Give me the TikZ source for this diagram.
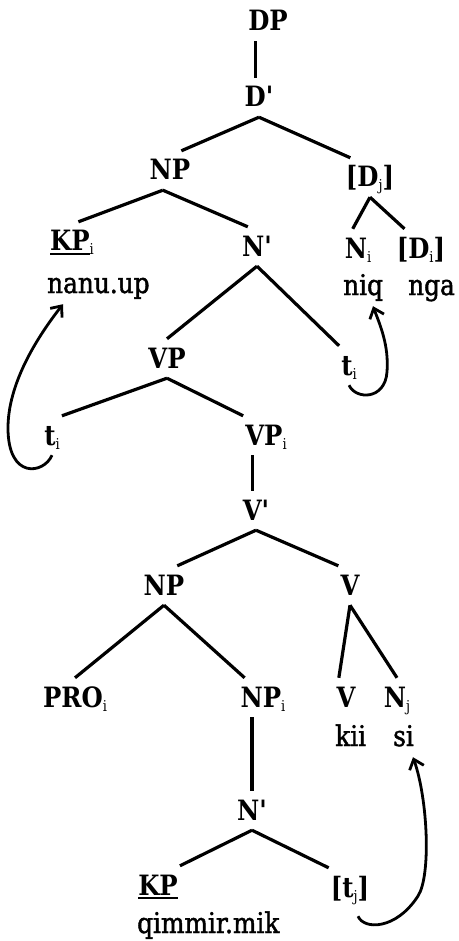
\documentclass[tikz,border=0pt]{standalone}
\usepackage{fontspec}
\newfontfamily\treefont[FakeStretch=0.87]{DejaVu Serif}
\newfontfamily\wordfont[FakeStretch=0.87,FakeBold=1.5]{DejaVu Serif}
\usetikzlibrary{arrows.meta,positioning}
\newsavebox\undlbox
\newcommand{\idx}[1]{\raisebox{-4pt}{\fontsize{15}{15}\selectfont\mdseries #1}}
\newcommand{\undl}[1]{\sbox\undlbox{#1}\rlap{\rule[-4pt]{\wd\undlbox}{2.4pt}}\usebox\undlbox}

\begin{document}
\begin{tikzpicture}[
  x=1pt, y=-1pt,
  cat/.style={font={\treefont\bfseries\fontsize{28}{32}\selectfont}, anchor=base,
              inner xsep=2pt, inner ysep=6pt, text height=23pt, text depth=4pt},
  word/.style={font={\wordfont\fontsize{28.5}{32}\selectfont}, anchor=base west,
               inner xsep=0pt, inner ysep=4pt, text height=15pt, text depth=7pt},
  branch/.style={line width=3.2pt},
  move/.style={line width=2.8pt, -{Straight Barb[length=9pt,width=15pt]}},
]
\useasboundingbox (0,0) rectangle (458,941);

% Nodes
\node[cat] (dp) at (268,31) {DP};
\node[cat] (dbar) at (259,107) {D'};
\node[cat] (np1) at (170,180) {NP};
\node[cat] (dj) at (370,187) {[D\idx{j}]};
\node[cat] (kp1) at (72,251) {\undl{KP}\idx{i}};
\node[cat] (nbar1) at (257,256) {N'};
\node[cat] (ni) at (358,258) {N\idx{i}};
\node[cat] (di) at (421,258) {[D\idx{i}]};
\node[word] (nanu) at (47,293) {nanu.up};
\node[word] (niq) at (343,295) {niq};
\node[word] (nga) at (408,295) {nga};
\node[cat] (vp1) at (167,368) {VP};
\node[cat] (ti1) at (349,375) {t\idx{i}};
\node[cat] (ti2) at (52,445) {t\idx{i}};
\node[cat] (vpi) at (266,445) {VP\idx{i}};
\node[cat] (vbar) at (256,520) {V'};
\node[cat] (np2) at (164,595) {NP};
\node[cat] (v1) at (350,595) {V};
\node[cat] (pro) at (75,707) {PRO\idx{i}};
\node[cat] (npi) at (263,707) {NP\idx{i}};
\node[cat] (v2) at (346,707) {V};
\node[cat] (nj) at (397,707) {N\idx{j}};
\node[word] (kii) at (335,746) {kii};
\node[word] (si) at (393,746) {si};
\node[cat] (nbar2) at (252,820) {N'};
\node[cat] (kp2) at (158,895) {\undl{KP}};
\node[cat] (tj) at (350,897) {[t\idx{j}]};
\node[word] (qimmir) at (137,933) {qimmir.mik};

% Branches
\draw[branch] (dp.south -| dbar.100) -- (dbar.100);
\draw[branch] (dbar.south) -- (np1.60);
\draw[branch] (dbar.south) -- (dj.135);
\draw[branch] (np1.250) -- (kp1.72);
\draw[branch] (np1.250) -- (nbar1.115);
\draw[branch] (dj.south) -- (ni.105);
\draw[branch] (dj.south) -- (di.130);
\draw[branch] (nbar1.south) -- (vp1.north);
\draw[branch] (nbar1.south) -- (ti1.north west);
\draw[branch] (vp1.south) -- (ti2.north east);
\draw[branch] (vp1.south) -- (vpi.north west);
\draw[branch] (vpi.south -| vbar.100) -- (vbar.100);
\draw[branch] (vbar.south) -- (np2.56);
\draw[branch] (vbar.south) -- (v1.north west);
\draw[branch] (np2.south) -- (pro.north);
\draw[branch] (np2.south) -- (npi.133);
\draw[branch] (v1.south) -- (v2.110);
\draw[branch] (v1.south) -- (nj.north);
\draw[branch] (npi.south -| nbar2.north) -- (nbar2.north);
\draw[branch] (nbar2.south) -- (kp2.north east);
\draw[branch] (nbar2.south) -- (tj.north west);

% Movement arrows
\draw[move] (ti2.south) .. controls (44,474) and (8,480) .. (8,428)
  .. controls (8,385) and (35,340) .. ([xshift=16pt]nanu.south west);
\draw[move] (ti1.south) .. controls (356,400) and (385,400) .. (387,372)
  .. controls (389,345) and (380,325) .. ([xshift=30pt]niq.south west);
\draw[move] ([xshift=8pt,yshift=-9pt]tj.south) .. controls (364,930) and (396,930) .. (418,896)
  .. controls (431,876) and (428,800) .. ([xshift=20pt]si.south west);
\end{tikzpicture}
\end{document}
